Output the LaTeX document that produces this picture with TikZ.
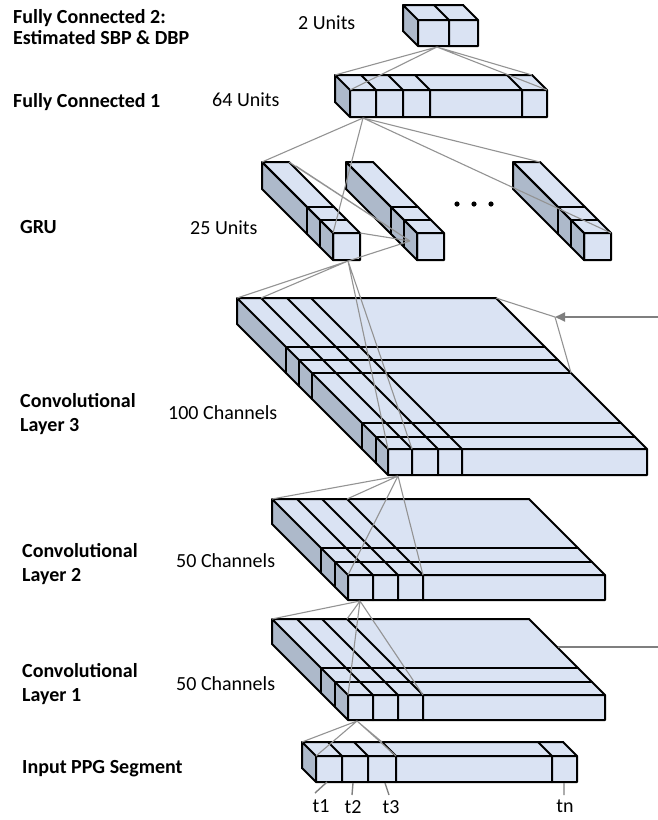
\documentclass[tikz,border=0pt]{standalone}
\usepackage{fontspec}
\setmainfont{Carlito}
\usetikzlibrary{arrows.meta}
\definecolor{facec}{HTML}{DAE3F3}
\definecolor{sidec}{HTML}{ADB9CA}
\definecolor{linkc}{HTML}{939393}
\definecolor{arrowc}{HTML}{7F7F7F}
\tikzset{
  edgeln/.style={draw=black,line width=2pt,line join=round,line cap=round},
  link/.style={draw=linkc,line width=1.1pt},
  lbl/.style={anchor=base west,inner sep=0pt,font=\fontsize{20}{24}\selectfont\bfseries},
  unitlbl/.style={anchor=base west,inner sep=0pt,font=\fontsize{20}{24}\selectfont},
  ticklbl/.style={anchor=base,inner sep=0pt,font=\fontsize{20}{24}\selectfont},
}
% name, fx, fy, w, h, d, column offsets, band depths (from back)
\newcommand{\slab}[8]{%
  \coordinate (#1-ftl) at (#2,#3);
  \coordinate (#1-ftr) at (#2+#4,#3);
  \coordinate (#1-fbl) at (#2,#3+#5);
  \coordinate (#1-fbr) at (#2+#4,#3+#5);
  \coordinate (#1-btl) at (#2-#6,#3-#6);
  \coordinate (#1-btr) at (#2+#4-#6,#3-#6);
  \coordinate (#1-bbl) at (#2-#6,#3-#6+#5);
  \fill[facec] (#1-btl) -- (#1-btr) -- (#1-ftr) -- (#1-ftl) -- cycle;
  \fill[sidec] (#1-btl) -- (#1-ftl) -- (#1-fbl) -- (#1-bbl) -- cycle;
  \fill[facec] (#1-ftl) rectangle (#1-fbr);
  \foreach \b in {#8} {
    \draw[edgeln] (#2-#6+\b,#3-#6+\b) -- (#2+#4-#6+\b,#3-#6+\b)
                  (#2-#6+\b,#3-#6+\b) -- (#2-#6+\b,#3-#6+\b+#5);
  }
  \foreach \c in {#7} {
    \draw[edgeln] (#2+\c-#6,#3-#6) -- (#2+\c,#3) -- (#2+\c,#3+#5);
  }
  \draw[edgeln] (#1-btl) -- (#1-btr) -- (#1-ftr) -- (#1-fbr) -- (#1-fbl) -- (#1-bbl) -- cycle
                (#1-btl) -- (#1-ftl) -- (#1-ftr) (#1-ftl) -- (#1-fbl);
}
\begin{document}
\begin{tikzpicture}[x=1pt,y=-1pt]
\useasboundingbox (0,0) rectangle (658,820);

% ---- layers ----
\slab{fc2}{418}{20}{60}{26}{15}{31}{0}
\slab{fc1}{350}{90}{197}{27}{15}{26,53,80,172}{0}
\slab{gru1}{333}{233}{27}{27}{71}{0}{45,58}
\slab{gru2}{417}{233}{27}{27}{71}{0}{45,58}
\slab{gru3}{584}{233}{27}{27}{71}{0}{45,58}
\slab{cv3}{388}{449}{259}{26}{151}{24,50,74}{49,62,75,125,139}
\slab{cv2}{348}{575}{257}{25}{76}{25,50,75}{49,63}
\slab{cv1}{348}{695}{257}{25}{76}{25,50,75}{49,63}
\slab{ppg}{316}{756}{261}{26}{14}{26,52,80,236}{0}

% dots
\fill (457,204) circle (2.6) (474,204) circle (2.6) (491,204) circle (2.6);

% ---- connection points ----
\coordinate (p-fc2) at (437,47);
\coordinate (p-fc1) at (363,118);
\coordinate (p-gru1) at (348,261);
\coordinate (p-gru2) at (410,241);
\coordinate (q-gru1a) at (296,166);
\coordinate (p-cv3) at (398,476);
\coordinate (p-cv2) at (360,601);
\coordinate (p-cv1) at (357,721);
\coordinate (cv3-c1b) at (261,298);
\coordinate (cv3-c1f) at (412,449);
\coordinate (cv3-b75) at (571,373);
\coordinate (cv2-c3b) at (347,499);
\coordinate (cv2-c3f) at (423,575);
\coordinate (cv1-c3b) at (347,619);
\coordinate (cv1-c3f) at (423,695);
\coordinate (ppg-c3b) at (382,742);
\coordinate (ppg-c3f) at (396,756);
\coordinate (arr-tail) at (658,317);
\coordinate (arr-tip) at (555,317);
\coordinate (cv1-in) at (658,647);
\coordinate (cv1-edge) at (558,647);

% ---- connectors ----
\draw[link] (p-fc2) -- (fc1-btl) (p-fc2) -- (fc1-ftl) (p-fc2) -- (fc1-btr) (p-fc2) -- (fc1-ftr);
\draw[link] (p-fc1) -- (gru1-btl) (p-fc1) -- (gru1-ftl) (p-fc1) -- (gru3-btr) (p-fc1) -- (gru3-ftr);
\draw[link] (p-gru2) -- (gru1-btr) (p-gru2) -- (q-gru1a) (p-gru2) -- (gru1-ftr) (p-gru2) -- (p-gru1);
\draw[link] (p-gru1) -- (cv3-btl) (p-gru1) -- (cv3-c1b) (p-gru1) -- (cv3-ftl) (p-gru1) -- (cv3-c1f);
\draw[link] (arr-tip) -- (cv3-btr) (arr-tip) -- (cv3-b75);
\draw[draw=arrowc,line width=1.8pt,-{Triangle[length=10pt,width=9pt]}] (arr-tail) -- (arr-tip);
\draw[link] (p-cv3) -- (cv2-btl) (p-cv3) -- (cv2-c3b) (p-cv3) -- (cv2-ftl) (p-cv3) -- (cv2-c3f);
\draw[link] (p-cv2) -- (cv1-btl) (p-cv2) -- (cv1-c3b) (p-cv2) -- (cv1-ftl) (p-cv2) -- (cv1-c3f);
\draw[link] (p-cv1) -- (ppg-btl) (p-cv1) -- (ppg-c3b) (p-cv1) -- (ppg-ftl) (p-cv1) -- (ppg-c3f);
\draw[draw=arrowc,line width=1.6pt] (cv1-in) -- (cv1-edge);

% ---- time ticks ----
\coordinate (tk1a) at (327,782); \coordinate (tk1b) at (315,793);
\coordinate (tk2a) at (353,783); \coordinate (tk2b) at (352,795);
\coordinate (tk3a) at (385,783); \coordinate (tk3b) at (389,795);
\coordinate (tkna) at (564,783); \coordinate (tknb) at (564,795);
\draw[link,draw=arrowc,line width=1.4pt] (tk1a) -- (tk1b) (tk2a) -- (tk2b) (tk3a) -- (tk3b) (tkna) -- (tknb);
\node[ticklbl] (t1) at (321,812) {t1};
\node[ticklbl] (t2) at (353,813) {t2};
\node[ticklbl] (t3) at (391,813) {t3};
\node[ticklbl] (tn) at (565,812) {tn};

% ---- labels ----
\node[lbl] (l-fc2a) at (13,23) {Fully Connected 2:};
\node[lbl] (l-fc2b) at (13,44) {Estimated SBP \& DBP};
\node[unitlbl] (u-fc2) at (298,29) {2 Units};
\node[lbl] (l-fc1) at (13,107) {Fully Connected 1};
\node[unitlbl] (u-fc1) at (212,106) {64 Units};
\node[lbl] (l-gru) at (20,233) {GRU};
\node[unitlbl] (u-gru) at (190,234) {25 Units};
\node[lbl] (l-cv3a) at (20,407) {Convolutional};
\node[lbl] (l-cv3b) at (20,431) {Layer 3};
\node[unitlbl] (u-cv3) at (168,419) {100 Channels};
\node[lbl] (l-cv2a) at (22,557) {Convolutional};
\node[lbl] (l-cv2b) at (22,581) {Layer 2};
\node[unitlbl] (u-cv2) at (176,567) {50 Channels};
\node[lbl] (l-cv1a) at (22,677) {Convolutional};
\node[lbl] (l-cv1b) at (22,701) {Layer 1};
\node[unitlbl] (u-cv1) at (176,690) {50 Channels};
\node[lbl] (l-ppg) at (22,773) {Input PPG Segment};
\end{tikzpicture}
\end{document}
